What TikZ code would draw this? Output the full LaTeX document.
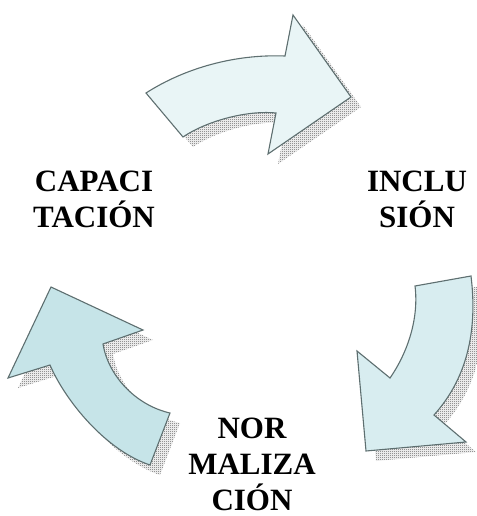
\documentclass[tikz,border=0pt]{standalone}
\usepackage{fontspec}
\setmainfont{Liberation Serif}
\usetikzlibrary{patterns}

\definecolor{borde}{HTML}{5E6F70}
\definecolor{azuluno}{HTML}{E9F5F6}
\definecolor{azuldos}{HTML}{D8EDF0}
\definecolor{azultres}{HTML}{C6E4E8}

% checkered shadow
\pgfdeclarepatternformonly{tablero}{\pgfpointorigin}{\pgfqpoint{2pt}{2pt}}{\pgfqpoint{2pt}{2pt}}{%
\pgfpathrectangle{\pgfpointorigin}{\pgfqpoint{1pt}{1pt}}%
\pgfpathrectangle{\pgfqpoint{1pt}{1pt}}{\pgfqpoint{1pt}{1pt}}%
\pgfusepath{fill}}

% the three arrow outlines (pixel coordinates)
\newcommand{\flechauno}{(146,93) .. controls (185,68) and (235,54) .. (285,56) -- (293,15) -- (351,97) -- (268,154) -- (276,113) .. controls (245,110) and (205,122) .. (183,137) -- cycle}
\newcommand{\flechados}{(415,286) -- (471,276) .. controls (477,325) and (470,375) .. (434,415) -- (466,442) -- (366,451) -- (357,351) -- (390,378) .. controls (408,352) and (419,318) .. (415,286) -- cycle}
\newcommand{\flechatres}{(51,287) -- (143,330) -- (103,344) .. controls (108,375) and (135,405) .. (170,413) -- (150,465) .. controls (105,450) and (65,400) .. (50,365) -- (8,378) -- cycle}

\begin{document}
\begin{tikzpicture}[x=1pt,y=-1pt,
sombra/.style={pattern=tablero, pattern color=gray!70!black, shift={(10,10)}},
flecha/.style={draw=borde, line width=1.1pt, line join=miter},
rotulo/.style={font=\fontsize{31}{36}\selectfont\bfseries, align=center}
]
\useasboundingbox (0,0) rectangle (476,516);

% The shadows
\path[sombra] \flechauno;
\path[sombra] \flechados;
\path[sombra] \flechatres;

% The arrows
\path[flecha, fill=azuluno] \flechauno;
\path[flecha, fill=azuldos] \flechados;
\path[flecha, fill=azultres] \flechatres;

% The labels
\node[rotulo] (capacitacion) at (94,199) {CAPACI\\TACIÓN};
\node[rotulo] (inclusion) at (417,199) {INCLU\\SIÓN};
\node[rotulo] (normalizacion) at (252,464) {NOR\\MALIZA\\CIÓN};
\end{tikzpicture}
\end{document}
